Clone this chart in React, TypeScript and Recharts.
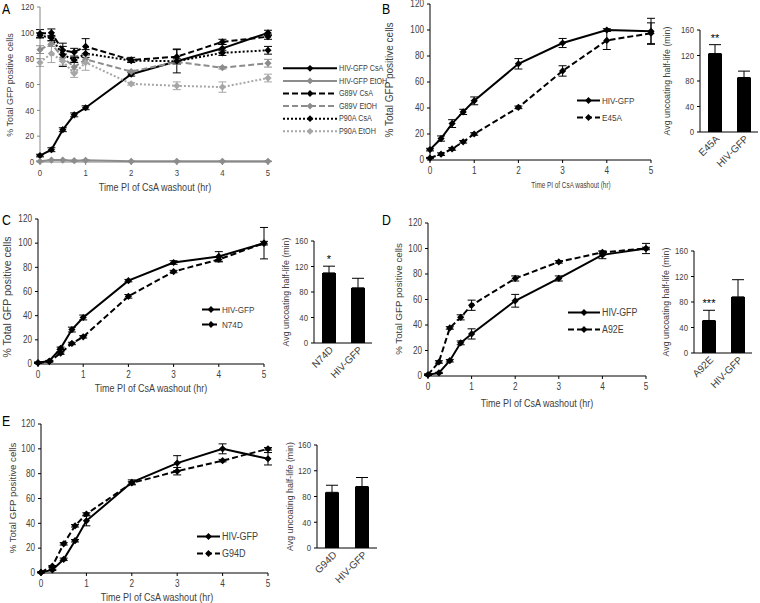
import {
  Bar,
  BarChart,
  ErrorBar,
  LabelList,
  Legend,
  Line,
  LineChart,
  XAxis,
  YAxis,
} from "recharts";

const SANS = '"Liberation Sans", Arial, sans-serif';
const TEXT = "#404040";
const GRAY = "#8c8c8c";
const LIGHT = "#a6a6a6";
// the figure is squeezed sideways, so horizontal text is narrowed to match
const SQ = 0.82;

const times = [0, 0.25, 0.5, 0.75, 1, 2, 3, 4, 5];
const xTicks = [0, 1, 2, 3, 4, 5];
const pctTicks = [0, 20, 40, 60, 80, 100, 120];
const halfLifeTicks = [0, 40, 80, 120, 160];

// panel A
const aHivCsa = [5, 9.5, 25, 36.5, 42, 68, 78, 88, 100];
const aHivCsaErr = [1, 1.5, 1.5, 1.5, 1.5, 1.5, 2, 3, 2];
const aHivEtoh = [0.5, 1.5, 1.5, 1, 1.3, 0.5, 0.5, 0.5, 0.5];
const aHivEtohErr = [0.3, 0.3, 0.3, 0.3, 0.3, 0.2, 0.2, 0.2, 0.2];
const aG89vCsa = [99.5, 100, 86.5, 85, 89.5, 79, 81.5, 93, 97];
const aG89vCsaErr = [3, 3, 3, 3, 6, 2, 6, 2, 2];
const aG89vEtoh = [87, 91.5, 81, 73.5, 79.5, 70, 77.5, 73, 76.5];
const aG89vEtohErr = [3, 2, 3, 4, 3, 1, 2, 1, 3];
const aP90aCsa = [98, 96, 83, 79, 84, 78.5, 78, 84.5, 86.5];
const aP90aCsaErr = [2, 2, 9, 2, 3, 1, 9, 2, 3];
const aP90aEtoh = [77, 84, 78, 68.5, 77, 60.5, 59, 58, 65];
const aP90aEtohErr = [3, 7, 3, 3, 6, 1, 3, 4, 3];

// panel B
const bHiv = [8, 16.5, 28, 37, 45.5, 74, 90, 100, 99];
const bHivErr = [1, 2, 3, 2, 3, 4, 3.5, 1, 10];
const bE45a = [1.5, 4.5, 8.5, 14, 20, 40.5, 68.5, 92, 97.5];
const bE45aErr = [0.5, 1, 1, 1, 1, 1, 4, 7, 8];
const bBarCats = ["E45A", "HIV-GFP"];
const bBarVals = [123, 85.5];
const bBarErrs = [14, 10];
const bBarSig = ["**", ""];

// panel C
const cHiv = [1, 2.5, 13, 28.5, 38.5, 69, 84, 89, 100];
const cHivErr = [0.5, 0.5, 1, 2, 2, 1, 1.5, 4, 13];
const cN74d = [1, 2, 9, 17, 22.5, 56, 76.5, 86.5, 100];
const cN74dErr = [0.5, 0.5, 1, 1, 1, 1.5, 1, 2, 1.5];
const cBarCats = ["N74D", "HIV-GFP"];
const cBarVals = [110, 86.5];
const cBarErrs = [10.5, 15];
const cBarSig = ["*", ""];

// panel D
const dHiv = [1, 2.4, 12, 26, 33, 59, 76.5, 95, 100];
const dHivErr = [0.5, 0.5, 1, 1.5, 4, 5, 2, 3, 4];
const dA92e = [1, 11, 37.7, 46, 55.5, 76.5, 89.5, 97, 100];
const dA92eErr = [0.5, 1, 1, 2, 4, 2, 1, 1, 1];
const dBarCats = ["A92E", "HIV-GFP"];
const dBarVals = [51, 88];
const dBarErrs = [16, 27];
const dBarSig = ["***", ""];

// panel E
const eHiv = [0.5, 2.5, 11, 26, 42, 73, 88.5, 100, 92];
const eHivErr = [0.3, 0.5, 1, 1, 4, 2, 6, 4, 5];
const eG94d = [0.5, 5.5, 23.5, 38, 47.5, 72.5, 82, 90.5, 100];
const eG94dErr = [0.3, 0.5, 1, 1, 1, 1, 3, 1, 1];
const eBarCats = ["G94D", "HIV-GFP"];
const eBarVals = [86.5, 95.5];
const eBarErrs = [11, 14];
const eBarSig = ["", ""];

interface Series {
  key: string;
  name: string;
  values: number[];
  errs: number[];
  color: string;
  dash?: string;
}
interface Box {
  left: number;
  top: number;
  width: number;
  height: number;
}
interface Plot {
  x0: number;
  x1: number;
  yTop: number;
  yBottom: number;
}
interface Title {
  x: number;
  y: number;
  size: number;
  squeeze?: number;
}
interface LegendSpec {
  x: number;
  y: number;
  lineLen: number;
  rowH: number;
  size: number;
}

const DASH = "6 3";
const DOT = "2 2";

const pair = (name: string, hiv: number[], hivErr: number[], mut: number[], mutErr: number[]): Series[] => [
  { key: "hiv", name: "HIV-GFP", values: hiv, errs: hivErr, color: "#000" },
  { key: "mut", name, values: mut, errs: mutErr, color: "#000", dash: DASH },
];

const seriesA: Series[] = [
  { key: "hivCsa", name: "HIV-GFP CsA", values: aHivCsa, errs: aHivCsaErr, color: "#000" },
  { key: "hivEtoh", name: "HIV-GFP EtOH", values: aHivEtoh, errs: aHivEtohErr, color: GRAY },
  { key: "g89vCsa", name: "G89V CsA", values: aG89vCsa, errs: aG89vCsaErr, color: "#000", dash: DASH },
  { key: "g89vEtoh", name: "G89V EtOH", values: aG89vEtoh, errs: aG89vEtohErr, color: GRAY, dash: DASH },
  { key: "p90aCsa", name: "P90A CsA", values: aP90aCsa, errs: aP90aCsaErr, color: "#000", dash: DOT },
  { key: "p90aEtoh", name: "P90A EtOH", values: aP90aEtoh, errs: aP90aEtohErr, color: LIGHT, dash: DOT },
];

function NarrowText(props: {
  x: number;
  y: number;
  size: number;
  anchor?: "start" | "middle" | "end";
  squeeze?: number;
  children: React.ReactNode;
}) {
  return (
    <text
      transform={`translate(${props.x} ${props.y}) scale(${props.squeeze ?? SQ} 1)`}
      textAnchor={props.anchor ?? "start"}
      dominantBaseline="central"
      fontSize={props.size}
      fontFamily={SANS}
      fill={TEXT}
    >
      {props.children}
    </text>
  );
}

const leftTick = (size: number) => (p: any) => (
  <NarrowText key={p.index} x={p.x} y={p.y} size={size} anchor="end">
    {p.payload.value}
  </NarrowText>
);

const bottomTick = (size: number) => (p: any) => (
  <NarrowText key={p.index} x={p.x} y={p.y + size * 0.5} size={size} anchor="middle">
    {p.payload.value}
  </NarrowText>
);

function diamondPoints(cx: number, cy: number, r: number) {
  return `${cx},${cy - r} ${cx + r},${cy} ${cx},${cy + r} ${cx - r},${cy}`;
}

const diamond = (color: string) => (p: any) => {
  if (p.cx == null || p.cy == null) return <g key={p.index} />;
  return <polygon key={p.index} points={diamondPoints(p.cx, p.cy, 3.6)} fill={color} />;
};

function LinePanel(props: {
  box: Box;
  plot: Plot;
  series: Series[];
  axisColor: string;
  tickSize: number;
  yTitle: Title;
  xTitle: Title;
  legend: LegendSpec;
}) {
  const { box, plot, series, legend } = props;
  const YW = 30;
  const XH = 18;
  const margin = {
    top: plot.yTop - box.top,
    right: box.left + box.width - plot.x1,
    left: plot.x0 - box.left - YW,
    bottom: box.top + box.height - plot.yBottom - XH,
  };
  const rows = times.map((t, i) => {
    const r: Record<string, number> = { t };
    series.forEach((s) => {
      r[s.key] = s.values[i];
      r[s.key + "Err"] = s.errs[i];
    });
    return r;
  });
  const yt = props.yTitle;
  const xt = props.xTitle;
  const yx = yt.x - box.left;
  const yy = yt.y - box.top;
  const legendWidth = legend.lineLen + 90;

  return (
    <div style={{ position: "absolute", left: box.left, top: box.top }}>
      <LineChart width={box.width} height={box.height} data={rows} margin={margin}>
        <XAxis
          dataKey="t"
          type="number"
          domain={[0, 5]}
          ticks={xTicks}
          interval={0}
          height={XH}
          stroke={props.axisColor}
          tickSize={3}
          tickMargin={3}
          tick={bottomTick(props.tickSize)}
          label={() => (
            <NarrowText x={xt.x - box.left} y={xt.y - box.top} size={xt.size} anchor="middle" squeeze={xt.squeeze}>
              Time PI of CsA washout (hr)
            </NarrowText>
          )}
        />
        <YAxis
          type="number"
          domain={[0, 120]}
          ticks={pctTicks}
          interval={0}
          width={YW}
          stroke={props.axisColor}
          tickSize={3}
          tickMargin={3}
          tick={leftTick(props.tickSize)}
          label={() => (
            <text
              x={yx}
              y={yy}
              transform={`rotate(-90 ${yx} ${yy})`}
              textAnchor="middle"
              dominantBaseline="central"
              fontSize={yt.size}
              fontFamily={SANS}
              fill={TEXT}
            >
              % Total GFP positive cells
            </text>
          )}
        />
        {series.map((s) => (
          <Line
            key={s.key}
            dataKey={s.key}
            stroke={s.color}
            strokeWidth={2}
            strokeDasharray={s.dash}
            dot={diamond(s.color)}
            activeDot={false}
            isAnimationActive={false}
          >
            <ErrorBar dataKey={s.key + "Err"} width={4} stroke={s.color} strokeWidth={1} />
          </Line>
        ))}
        <Legend
          layout="vertical"
          align="center"
          verticalAlign="middle"
          wrapperStyle={{
            left: legend.x - box.left,
            top: legend.y - legend.rowH / 2 - box.top,
            width: legendWidth,
          }}
          content={() => (
            <svg width={legendWidth} height={legend.rowH * series.length} style={{ display: "block" }}>
              {series.map((s, i) => {
                const cy = legend.rowH * i + legend.rowH / 2;
                return (
                  <g key={s.key}>
                    <line x1={0} x2={legend.lineLen} y1={cy} y2={cy} stroke={s.color} strokeWidth={2} strokeDasharray={s.dash} />
                    <polygon points={diamondPoints(legend.lineLen / 2, cy, 3.4)} fill={s.color} />
                    <NarrowText x={legend.lineLen + 2} y={cy} size={legend.size}>
                      {s.name}
                    </NarrowText>
                  </g>
                );
              })}
            </svg>
          )}
        />
      </LineChart>
    </div>
  );
}

const catTick = (axisY: number) => (p: any) => {
  const x = p.x + 3;
  const y = axisY + 5;
  return (
    <text
      key={p.index}
      x={x}
      y={y}
      transform={`rotate(-45 ${x} ${y})`}
      textAnchor="end"
      dominantBaseline="central"
      fontSize={10}
      fontFamily={SANS}
      fill={TEXT}
    >
      {p.payload.value}
    </text>
  );
};

function BarPanel(props: {
  box: Box;
  plot: Plot;
  cats: string[];
  vals: number[];
  errs: number[];
  sig: string[];
  yTitleX: number;
}) {
  const { box, plot, cats, vals, errs, sig } = props;
  const YW = 28;
  const XH = 30;
  const margin = {
    top: plot.yTop - box.top,
    right: box.left + box.width - plot.x1,
    left: plot.x0 - box.left - YW,
    bottom: box.top + box.height - plot.yBottom - XH,
  };
  const rows = cats.map((c, i) => ({ cat: c, v: vals[i], err: [0, errs[i]], sig: sig[i] }));
  const yx = props.yTitleX - box.left;
  const yy = (plot.yTop + plot.yBottom) / 2 - box.top;

  return (
    <div style={{ position: "absolute", left: box.left, top: box.top }}>
      <BarChart width={box.width} height={box.height} data={rows} margin={margin}>
        <XAxis
          dataKey="cat"
          height={XH}
          stroke="#000"
          tickLine={false}
          interval={0}
          tick={catTick(plot.yBottom - box.top)}
        />
        <YAxis
          type="number"
          domain={[0, 160]}
          ticks={halfLifeTicks}
          interval={0}
          width={YW}
          stroke="#000"
          tickSize={3}
          tickMargin={3}
          tick={leftTick(9.5)}
          label={() => (
            <text
              x={yx}
              y={yy}
              transform={`rotate(-90 ${yx} ${yy})`}
              textAnchor="middle"
              dominantBaseline="central"
              fontSize={8.8}
              fontFamily={SANS}
              fill={TEXT}
            >
              Avg uncoating half-life (min)
            </text>
          )}
        />
        <Bar dataKey="v" fill="#000" barSize={14} isAnimationActive={false}>
          <ErrorBar dataKey="err" width={6} stroke="#000" strokeWidth={1} direction="y" />
          <LabelList
            dataKey="sig"
            content={(p: any) => {
              const i = p.index ?? 0;
              if (!sig[i]) return null;
              const perUnit = p.height / vals[i];
              const top = p.y - errs[i] * perUnit;
              return (
                <text
                  key={i}
                  x={p.x + p.width / 2}
                  y={top - 3}
                  textAnchor="middle"
                  fontSize={11}
                  fontFamily={SANS}
                  fill="#000"
                >
                  {sig[i]}
                </text>
              );
            }}
          />
        </Bar>
      </BarChart>
    </div>
  );
}

const letterStyle = (left: number, top: number): React.CSSProperties => ({
  position: "absolute",
  left,
  top,
  fontFamily: SANS,
  fontSize: 15,
  lineHeight: "15px",
  color: "#000",
  transform: `scaleX(${SQ})`,
  transformOrigin: "left top",
});

export default function App() {
  return (
    <div style={{ position: "fixed", left: 0, top: 0, width: 760, height: 603, background: "#fff", overflow: "hidden" }}>
      <LinePanel
        box={{ left: 0, top: 0, width: 400, height: 200 }}
        plot={{ x0: 40, x1: 268, yTop: 7, yBottom: 162 }}
        series={seriesA}
        axisColor="#868686"
        tickSize={9.5}
        yTitle={{ x: 10, y: 85, size: 9 }}
        xTitle={{ x: 155, y: 187, size: 11 }}
        legend={{ x: 283, y: 68, lineLen: 54, rowH: 12.6, size: 8.8 }}
      />
      <LinePanel
        box={{ left: 380, top: 0, width: 280, height: 200 }}
        plot={{ x0: 430, x1: 651, yTop: 4, yBottom: 160 }}
        series={pair("E45A", bHiv, bHivErr, bE45a, bE45aErr)}
        axisColor="#000"
        tickSize={10}
        yTitle={{ x: 389, y: 80, size: 10 }}
        xTitle={{ x: 571, y: 185, size: 9.5, squeeze: 0.67 }}
        legend={{ x: 577, y: 100, lineLen: 23, rowH: 17, size: 9.9 }}
      />
      <BarPanel
        box={{ left: 650, top: 0, width: 110, height: 175 }}
        plot={{ x0: 700, x1: 758, yTop: 30, yBottom: 132 }}
        cats={bBarCats}
        vals={bBarVals}
        errs={bBarErrs}
        sig={bBarSig}
        yTitleX={667}
      />
      <LinePanel
        box={{ left: 0, top: 210, width: 290, height: 195 }}
        plot={{ x0: 38, x1: 264, yTop: 219, yBottom: 364 }}
        series={pair("N74D", cHiv, cHivErr, cN74d, cN74dErr)}
        axisColor="#000"
        tickSize={10}
        yTitle={{ x: 7, y: 297, size: 10.5 }}
        xTitle={{ x: 151, y: 388, size: 11 }}
        legend={{ x: 202, y: 309, lineLen: 18, rowH: 15, size: 9.9 }}
      />
      <BarPanel
        box={{ left: 278, top: 225, width: 100, height: 165 }}
        plot={{ x0: 314, x1: 372, yTop: 241, yBottom: 343 }}
        cats={cBarCats}
        vals={cBarVals}
        errs={cBarErrs}
        sig={cBarSig}
        yTitleX={286}
      />
      <LinePanel
        box={{ left: 380, top: 210, width: 280, height: 205 }}
        plot={{ x0: 428, x1: 646, yTop: 223, yBottom: 376 }}
        series={pair("A92E", dHiv, dHivErr, dA92e, dA92eErr)}
        axisColor="#000"
        tickSize={10}
        yTitle={{ x: 398, y: 299, size: 9.7 }}
        xTitle={{ x: 537, y: 403, size: 11 }}
        legend={{ x: 568, y: 312, lineLen: 32, rowH: 17, size: 10.8 }}
      />
      <BarPanel
        box={{ left: 650, top: 230, width: 110, height: 160 }}
        plot={{ x0: 694, x1: 752, yTop: 251, yBottom: 353 }}
        cats={dBarCats}
        vals={dBarVals}
        errs={dBarErrs}
        sig={dBarSig}
        yTitleX={666}
      />
      <LinePanel
        box={{ left: 0, top: 410, width: 290, height: 193 }}
        plot={{ x0: 41, x1: 268, yTop: 424, yBottom: 573 }}
        series={pair("G94D", eHiv, eHivErr, eG94d, eG94dErr)}
        axisColor="#000"
        tickSize={10}
        yTitle={{ x: 12, y: 498, size: 9.6 }}
        xTitle={{ x: 157, y: 597, size: 11 }}
        legend={{ x: 197, y: 536, lineLen: 23, rowH: 17, size: 11 }}
      />
      <BarPanel
        box={{ left: 280, top: 430, width: 100, height: 165 }}
        plot={{ x0: 317, x1: 377, yTop: 445, yBottom: 548 }}
        cats={eBarCats}
        vals={eBarVals}
        errs={eBarErrs}
        sig={eBarSig}
        yTitleX={290}
      />
      <div style={letterStyle(2, 1)}>A</div>
      <div style={letterStyle(382, 1)}>B</div>
      <div style={letterStyle(2, 212)}>C</div>
      <div style={letterStyle(382, 212)}>D</div>
      <div style={letterStyle(2, 413)}>E</div>
    </div>
  );
}
